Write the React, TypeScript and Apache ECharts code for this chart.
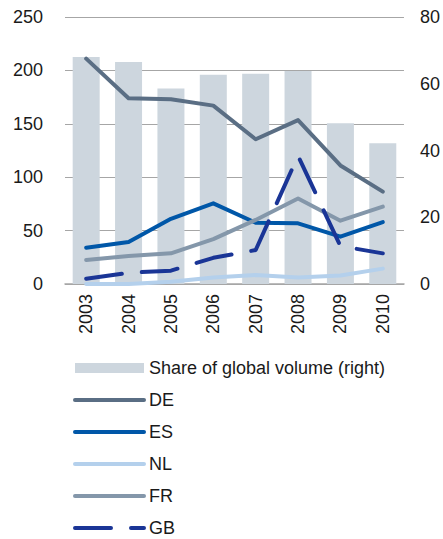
import React, { useEffect, useRef } from "react";
import * as echarts from "echarts";

const years = ["2003", "2004", "2005", "2006", "2007", "2008", "2009", "2010"];
const shareGlobal = [68, 66.5, 58.6, 62.7, 63, 63.8, 48.2, 42.2];
const DE = [211, 174, 173, 167, 135.5, 153.5, 111, 86.5];
const ES = [34, 39.3, 61, 75.5, 57.4, 56.8, 44.3, 58];
const NL = [0, 0, 2, 6, 8.4, 6, 8, 14.4];
const FR = [22.5, 26.2, 28.7, 42, 60, 80, 59.3, 72.4];
const GB = [5, 10.5, 12.5, 24.5, 31.8, 120, 35.5, 28.7];

const leftTicks = { min: 0, max: 250, interval: 50 };
const rightTicks = { min: 0, max: 80, interval: 20 };

const FONT = "Liberation Sans, Arial, sans-serif";

export default function App() {
  const ref = useRef<HTMLDivElement>(null);
  useEffect(() => {
    if (!ref.current) return;
    const chart = echarts.init(ref.current, undefined, { renderer: "svg" });
    const line = (name: string, data: number[], color: string, dashed = false) => ({
      name,
      type: "line",
      yAxisIndex: 0,
      data,
      symbol: "none",
      showSymbol: false,
      z: 3,
      lineStyle: {
        color,
        width: 4,
        type: dashed ? [36, 20] : "solid",
        cap: "round",
        join: "round",
      },
      itemStyle: { color },
    });
    const hiddenSym = { color: "transparent", borderWidth: 0, opacity: 0 };
    chart.setOption({
      animation: false,
      textStyle: { fontFamily: FONT },
      grid: { left: 65, right: 38, top: 17, height: 267, containLabel: false },
      legend: {
        orient: "vertical",
        left: 73,
        top: 359,
        height: 180,
        padding: 0,
        itemWidth: 69,
        itemHeight: 10,
        itemGap: 14,
        lineStyle: { width: 4, cap: "round" },
        textStyle: { fontSize: 18, color: "#1a1a1a", fontFamily: FONT },
        data: [
          { name: "Share of global volume (right)", icon: "rect" },
          { name: "DE", itemStyle: hiddenSym },
          { name: "ES", itemStyle: hiddenSym },
          { name: "NL", itemStyle: hiddenSym },
          { name: "FR", itemStyle: hiddenSym },
          { name: "GB", itemStyle: hiddenSym },
        ],
      },
      xAxis: {
        type: "category",
        data: years,
        axisLine: { lineStyle: { color: "#a6a6a6", width: 1.5 } },
        axisTick: { show: false },
        axisLabel: {
          rotate: 90,
          fontSize: 18,
          color: "#1a1a1a",
          fontFamily: FONT,
          margin: 10,
        },
      },
      yAxis: [
        {
          type: "value",
          ...leftTicks,
          position: "left",
          axisLine: { show: false },
          axisTick: { show: false },
          splitLine: { lineStyle: { color: "#a6a6a6", width: 1 } },
          axisLabel: { fontSize: 18, color: "#1a1a1a", fontFamily: FONT, margin: 22 },
        },
        {
          type: "value",
          ...rightTicks,
          position: "right",
          axisLine: { show: false },
          axisTick: { show: false },
          splitLine: { show: false },
          axisLabel: { fontSize: 18, color: "#1a1a1a", fontFamily: FONT, margin: 16 },
        },
      ],
      series: [
        {
          name: "Share of global volume (right)",
          type: "bar",
          yAxisIndex: 1,
          data: shareGlobal,
          barWidth: 27,
          itemStyle: { color: "#cdd6de" },
          z: 1,
        },
        line("DE", DE, "#5a6e84"),
        line("ES", ES, "#0057a8"),
        line("NL", NL, "#b4d0ec"),
        line("FR", FR, "#8497aa"),
        line("GB", GB, "#1a3596", true),
      ],
    });
    return () => chart.dispose();
  }, []);
  return (
    <div
      ref={ref}
      style={{ position: "absolute", left: 0, top: 0, width: 443, height: 539, background: "#fff" }}
    />
  );
}
